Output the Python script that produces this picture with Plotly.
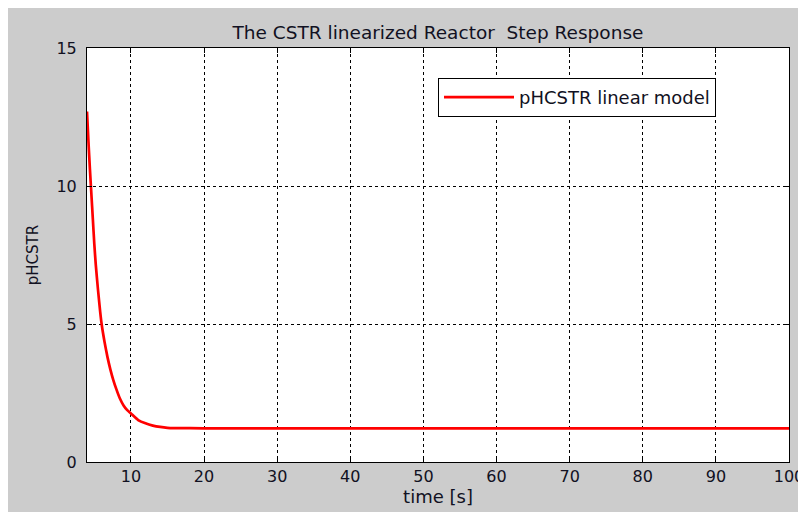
import plotly.graph_objects as go

# Data (time in s, pH)
time_s = [4.0, 4.2, 4.4, 4.6, 4.8, 5.0, 5.2, 5.5, 5.8, 6.0, 6.4, 6.8, 7.2, 7.6,
          8.0, 8.5, 9.0, 9.5, 10.0, 11.0, 12.0, 13.0, 14.0, 15.0, 16.0, 20.0,
          30.0, 40.0, 50.0, 60.0, 70.0, 80.0, 90.0, 100.0]
ph_values = [12.7, 11.6, 10.6, 9.7, 8.8, 7.9, 7.15, 6.25, 5.45, 5.0, 4.35, 3.8, 3.35, 2.97,
             2.65, 2.3, 2.05, 1.88, 1.76, 1.52, 1.40, 1.32, 1.27, 1.24, 1.23, 1.22,
             1.22, 1.22, 1.22, 1.22, 1.22, 1.22, 1.22, 1.22]
x_ticks = [10, 20, 30, 40, 50, 60, 70, 80, 90, 100]
y_ticks = [0, 5, 10, 15]

FONT = "DejaVu Sans"
TXT = "#111122"

fig = go.Figure()
fig.add_trace(go.Scatter(
    x=time_s, y=ph_values, mode="lines",
    line=dict(color="#ff0000", width=2.7, shape="spline", smoothing=0.5),
    name="pHCSTR linear model",
))

axis_common = dict(
    showline=True, linecolor="black", linewidth=1, mirror="ticks",
    ticks="inside", ticklen=5, tickcolor="black", tickwidth=1,
    showgrid=True, gridcolor="black", gridwidth=1, griddash="3px,3px",
    zeroline=False, automargin=False, tickfont=dict(family=FONT, size=16, color=TXT),
)

fig.update_xaxes(range=[4, 100], tickvals=x_ticks,
                 title=dict(text="time [s]", font=dict(family=FONT, size=18, color=TXT), standoff=2),
                 **axis_common)
fig.update_yaxes(range=[0, 15], tickvals=y_ticks, ticklabelstandoff=6,
                 title=dict(text="pHCSTR", font=dict(family=FONT, size=15, color=TXT), standoff=14),
                 **axis_common)

fig.update_layout(
    width=798, height=504,
    margin=dict(l=79, r=17, t=40, b=50),
    paper_bgcolor="#cccccc", plot_bgcolor="white",
    title=dict(text="The CSTR linearized Reactor  Step Response", x=0.5, xref="paper",
               y=1.0, yref="paper", yanchor="bottom", pad=dict(b=9),
               font=dict(family=FONT, size=18.5, color=TXT)),
    showlegend=True,
    legend=dict(x=0.5, y=0.9275, xref="paper", yref="paper", xanchor="left", yanchor="top",
                bgcolor="white", bordercolor="black", borderwidth=1,
                font=dict(family=FONT, size=18, color=TXT),
                itemwidth=70, tracegroupgap=0),
)

fig.write_html("out.html")
